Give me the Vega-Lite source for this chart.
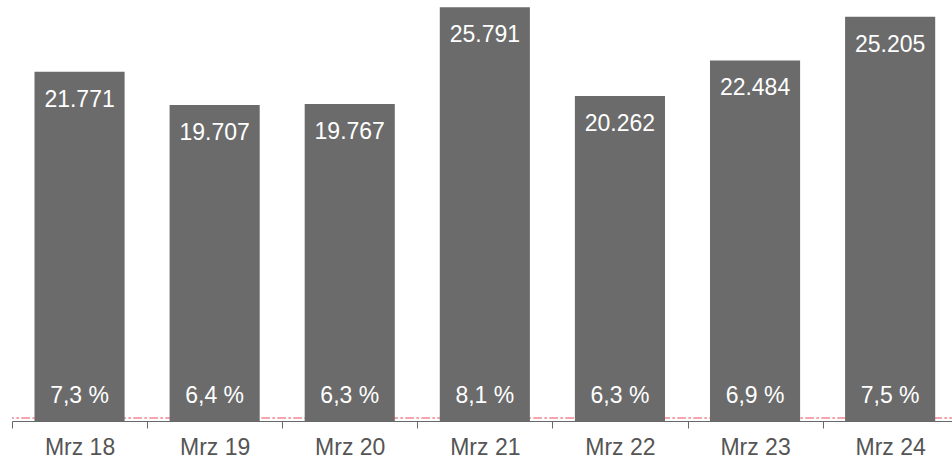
{
  "$schema": "https://vega.github.io/schema/vega-lite/v6.json",
  "width": 945.7,
  "height": 417,
  "padding": {"left": 12, "top": 4, "right": 0, "bottom": 39},
  "autosize": {"type": "none"},
  "background": "white",
  "config": {"view": {"stroke": null}},
  "data": {
    "values": [
      {"m": "Mrz 18", "v": 21771, "vl": "21.771", "p": "7,3 %"},
      {"m": "Mrz 19", "v": 19707, "vl": "19.707", "p": "6,4 %"},
      {"m": "Mrz 20", "v": 19767, "vl": "19.767", "p": "6,3 %"},
      {"m": "Mrz 21", "v": 25791, "vl": "25.791", "p": "8,1 %"},
      {"m": "Mrz 22", "v": 20262, "vl": "20.262", "p": "6,3 %"},
      {"m": "Mrz 23", "v": 22484, "vl": "22.484", "p": "6,9 %"},
      {"m": "Mrz 24", "v": 25205, "vl": "25.205", "p": "7,5 %"}
    ]
  },
  "layer": [
    {
      "mark": {"type": "rule", "color": "#f5a3ad", "strokeDash": [8, 3, 2, 3], "strokeWidth": 1},
      "encoding": {"y": {"datum": 180, "type": "quantitative", "axis": null}}
    },
    {
      "mark": {"type": "bar", "width": {"band": 0.667}, "color": "#6b6b6b"},
      "encoding": {
        "x": {
          "field": "m",
          "type": "ordinal",
          "sort": null,
          "scale": {"padding": 0},
          "axis": {
            "title": null,
            "labelAngle": 0,
            "tickBand": "extent",
            "domainColor": "#666666",
            "tickColor": "#666666",
            "tickSize": 7,
            "labelFont": "Liberation Sans",
            "labelFontSize": 23,
            "labelColor": "#555555",
            "labelPadding": 9,
            "grid": false
          }
        },
        "y": {"field": "v", "type": "quantitative", "scale": {"domain": [0, 26000]}, "axis": null}
      }
    },
    {
      "mark": {"type": "text", "color": "white", "font": "Liberation Sans", "fontSize": 23, "baseline": "alphabetic", "dy": 35},
      "encoding": {
        "x": {"field": "m", "type": "ordinal", "sort": null},
        "y": {"field": "v", "type": "quantitative", "axis": null},
        "text": {"field": "vl"}
      }
    },
    {
      "mark": {"type": "text", "color": "white", "font": "Liberation Sans", "fontSize": 23, "baseline": "alphabetic", "dy": -18},
      "encoding": {
        "x": {"field": "m", "type": "ordinal", "sort": null},
        "y": {"datum": 0, "type": "quantitative", "axis": null},
        "text": {"field": "p"}
      }
    }
  ]
}
